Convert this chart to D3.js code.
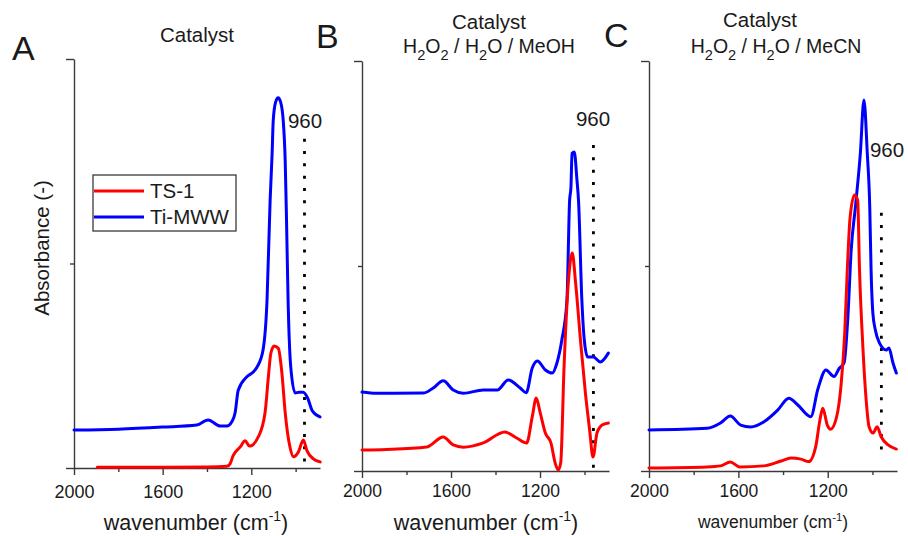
<!DOCTYPE html>
<html>
<head>
<meta charset="utf-8">
<script src="https://cdn.jsdelivr.net/npm/d3@7"></script>
<style>
  html, body { margin: 0; padding: 0; background: #fff; }
  svg { display: block; font-family: "Liberation Sans", Arial, sans-serif; }
</style>
</head>
<body>
<script>
// ---------- DATA ----------
const panelLetters = ["A", "B", "C"];
const seriesNames = ["TS-1", "Ti-MWW"];
const xDomain = [2000, 890];
const xMajorTicks = [2000, 1600, 1200];
const xMinorTicks = [1800, 1400, 1000];
const yDomain = [0, 2];
const markerWavenumber = 960;
const markerTop = [1.61, 1.59, 1.26];
const markerBottom = [0, 0, 0.09];

// Panel A: Catalyst
const aTiMWW_wn  = [2000, 1800, 1600, 1446, 1395, 1340, 1310, 1288, 1273, 1259, 1220, 1191, 1174, 1147, 1129, 1115, 1106, 1101, 1090, 1079, 1068, 1056, 1047, 1041, 1034, 1022, 1002, 985, 966, 945, 925, 890];
const aTiMWW_abs = [0.186, 0.19, 0.20, 0.21, 0.235, 0.205, 0.205, 0.226, 0.27, 0.38, 0.446, 0.47, 0.494, 0.577, 0.82, 1.31, 1.54, 1.70, 1.79, 1.81, 1.79, 1.70, 1.50, 1.21, 0.82, 0.494, 0.367, 0.37, 0.37, 0.34, 0.28, 0.25];
const aTS1_wn  = [1895, 1800, 1600, 1400, 1310, 1296, 1282, 1250, 1228, 1208, 1168, 1138, 1123, 1112, 1097, 1078, 1062, 1047, 1025, 1010, 987, 965, 949, 920, 889];
const aTS1_abs = [0.004, 0.004, 0.004, 0.005, 0.008, 0.02, 0.06, 0.103, 0.133, 0.107, 0.153, 0.27, 0.445, 0.56, 0.596, 0.585, 0.465, 0.27, 0.10, 0.055, 0.08, 0.137, 0.085, 0.045, 0.03];

// Panel B: Catalyst + H2O2 / H2O / MeOH
const bTiMWW_wn  = [2000, 1934, 1725, 1680, 1635, 1590, 1545, 1455, 1392, 1343, 1289, 1262, 1235, 1212, 1176, 1145, 1124, 1102, 1079, 1067, 1061, 1056, 1046, 1034, 1027, 1012, 1001, 986, 960, 929, 893];
const bTiMWW_abs = [0.385, 0.379, 0.38, 0.405, 0.44, 0.395, 0.379, 0.395, 0.395, 0.444, 0.405, 0.382, 0.502, 0.537, 0.493, 0.478, 0.527, 0.639, 0.834, 1.32, 1.385, 1.55, 1.556, 1.42, 1.32, 0.834, 0.639, 0.556, 0.556, 0.532, 0.575];
const bTS1_wn  = [2000, 1890, 1710, 1635, 1590, 1545, 1455, 1358, 1305, 1260, 1235, 1217, 1199, 1176, 1151, 1132, 1118, 1107, 1092, 1073, 1055, 1040, 1017, 996, 977, 962, 944, 921, 893];
const bTS1_abs = [0.102, 0.105, 0.117, 0.166, 0.127, 0.116, 0.137, 0.19, 0.161, 0.137, 0.264, 0.356, 0.283, 0.185, 0.137, 0.039, 0.005, 0.04, 0.507, 0.916, 1.063, 0.916, 0.624, 0.38, 0.2, 0.068, 0.185, 0.224, 0.234];

// Panel C: Catalyst + H2O2 / H2O / MeCN
const cTiMWW_wn  = [2000, 1740, 1680, 1636, 1590, 1545, 1487, 1424, 1374, 1334, 1276, 1244, 1208, 1172, 1149, 1127, 1110, 1095, 1075, 1054, 1038, 1023, 1012, 1006, 998, 987, 968, 938, 926, 908, 893];
const cTiMWW_abs = [0.2, 0.208, 0.234, 0.268, 0.224, 0.215, 0.239, 0.297, 0.355, 0.322, 0.265, 0.4, 0.493, 0.461, 0.5, 0.527, 0.748, 1.078, 1.30, 1.55, 1.81, 1.55, 1.29, 0.98, 0.77, 0.688, 0.624, 0.59, 0.6, 0.527, 0.478];
const cTS1_wn  = [2000, 1740, 1680, 1636, 1595, 1487, 1409, 1365, 1320, 1285, 1254, 1235, 1222, 1202, 1187, 1160, 1140, 1124, 1112, 1100, 1080, 1066, 1058, 1042, 1028, 1015, 997, 979, 961, 930, 893];
const cTS1_abs = [0.015, 0.02, 0.025, 0.044, 0.02, 0.025, 0.049, 0.063, 0.058, 0.046, 0.118, 0.249, 0.306, 0.224, 0.204, 0.265, 0.424, 0.672, 0.992, 1.236, 1.346, 1.32, 0.99, 0.59, 0.346, 0.216, 0.185, 0.216, 0.167, 0.127, 0.107];

// ---------- LAYOUT / STYLE ----------
const colors = { "TS-1": "#ff0000", "Ti-MWW": "#0000ff" };
const axisColor = "#3a3a3a";
const textColor = "#1a1a1a";

const panels = [
  { letter: 0, x0: 74,  x1: 320, yBot: 468, yTop: 59, tickFs: 18, tickPad: 10, xlabFs: 21.5, xlabX: 196, xlabY: 530,
    series: [[aTS1_wn, aTS1_abs], [aTiMWW_wn, aTiMWW_abs]],
    letterPos: [12, 60], markLab: [305, 128] },
  { letter: 1, x0: 362, x1: 609, yBot: 471, yTop: 61, tickFs: 17.5, tickPad: 6.5, xlabFs: 21.5, xlabX: 486, xlabY: 530,
    series: [[bTS1_wn, bTS1_abs], [bTiMWW_wn, bTiMWW_abs]],
    letterPos: [316, 48], markLab: [593, 126] },
  { letter: 2, x0: 649, x1: 897, yBot: 471, yTop: 61, tickFs: 17.5, tickPad: 6.5, xlabFs: 17.5, xlabX: 773, xlabY: 528,
    series: [[cTS1_wn, cTS1_abs], [cTiMWW_wn, cTiMWW_abs]],
    letterPos: [604, 47], markLab: [887, 157] }
];

const svg = d3.select("body").append("svg").attr("width", 908).attr("height", 536);

function subText(sel, parts, fs) {
  // parts: array of [text, isSub]
  let prevSub = false;
  parts.forEach(([t, sub]) => {
    const ts = sel.append("tspan").text(t);
    if (sub && !prevSub) ts.attr("font-size", fs * 0.75).attr("dy", fs * 0.38);
    else if (sub && prevSub) ts.attr("font-size", fs * 0.75);
    else if (!sub && prevSub) ts.attr("dy", -fs * 0.38);
    prevSub = sub;
  });
}

panels.forEach((p, i) => {
  const x = d3.scaleLinear().domain(xDomain).range([p.x0, p.x1]);
  const y = d3.scaleLinear().domain(yDomain).range([p.yBot, p.yTop]);
  const g = svg.append("g");

  // x axis (major with labels)
  const xa = g.append("g").attr("transform", `translate(0,${p.yBot})`)
    .call(d3.axisBottom(x).tickValues(xMajorTicks).tickSize(7).tickSizeOuter(0).tickPadding(p.tickPad).tickFormat(d3.format("d")));
  xa.selectAll("text").attr("font-size", p.tickFs).attr("font-family", "Liberation Sans, Arial, sans-serif").attr("fill", textColor);
  xa.selectAll("path,line").attr("stroke", axisColor).attr("stroke-width", 1.4);
  const xm = g.append("g").attr("transform", `translate(0,${p.yBot})`)
    .call(d3.axisBottom(x).tickValues(xMinorTicks).tickSize(4).tickSizeOuter(0).tickFormat(""));
  xm.select(".domain").remove();
  xm.selectAll("line").attr("stroke", axisColor).attr("stroke-width", 1.4);

  // y axis
  const ya = g.append("g").attr("transform", `translate(${p.x0},0)`)
    .call(d3.axisLeft(y).tickValues([yDomain[0], yDomain[1]]).tickSize(8).tickSizeOuter(0).tickFormat(""));
  ya.selectAll("path,line").attr("stroke", axisColor).attr("stroke-width", 1.4);
  const ym = g.append("g").attr("transform", `translate(${p.x0},0)`)
    .call(d3.axisLeft(y).tickValues([(yDomain[0] + yDomain[1]) / 2]).tickSize(4).tickSizeOuter(0).tickFormat(""));
  ym.select(".domain").remove();
  ym.selectAll("line").attr("stroke", axisColor).attr("stroke-width", 1.4);

  // dotted marker at 960
  g.append("line")
    .attr("x1", x(markerWavenumber)).attr("x2", x(markerWavenumber))
    .attr("y1", y(markerTop[i])).attr("y2", y(markerBottom[i]))
    .attr("stroke", "#000").attr("stroke-width", 2.8).attr("stroke-dasharray", "3,9.3");
  g.append("text").attr("x", p.markLab[0]).attr("y", p.markLab[1]).attr("text-anchor", "middle")
    .attr("font-size", 20.5).attr("fill", textColor).text(String(markerWavenumber));

  // curves: Ti-MWW first, TS-1 on top
  const line = d3.line().x(d => x(d[0])).y(d => y(d[1])).curve(d3.curveMonotoneX);
  [1, 0].forEach(si => {
    const [wn, ab] = p.series[si];
    const pts = wn.map((w, k) => [w, ab[k]]);
    g.append("path").datum(pts).attr("d", line).attr("fill", "none")
      .attr("stroke", colors[seriesNames[si]]).attr("stroke-width", 3).attr("stroke-linejoin", "round").attr("stroke-linecap", "round");
  });

  // panel letter
  g.append("text").attr("x", p.letterPos[0]).attr("y", p.letterPos[1]).attr("font-size", 34)
    .attr("fill", textColor).text(panelLetters[p.letter]);

  // x label
  const xl = g.append("text").attr("x", p.xlabX).attr("y", p.xlabY).attr("text-anchor", "middle")
    .attr("font-size", p.xlabFs).attr("fill", textColor);
  xl.append("tspan").text("wavenumber (cm");
  xl.append("tspan").text("-1").attr("font-size", p.xlabFs * 0.65).attr("dy", -p.xlabFs * 0.42);
  xl.append("tspan").text(")").attr("dy", p.xlabFs * 0.42);
});

// titles
svg.append("text").attr("x", 197).attr("y", 42).attr("text-anchor", "middle").attr("font-size", 20.5).attr("fill", textColor).text("Catalyst");
svg.append("text").attr("x", 489).attr("y", 29).attr("text-anchor", "middle").attr("font-size", 20.5).attr("fill", textColor).text("Catalyst");
svg.append("text").attr("x", 760).attr("y", 27).attr("text-anchor", "middle").attr("font-size", 20.5).attr("fill", textColor).text("Catalyst");
const t2 = svg.append("text").attr("x", 489).attr("y", 53).attr("text-anchor", "middle").attr("font-size", 19.5).attr("fill", textColor);
subText(t2, [["H", false], ["2", true], ["O", false], ["2", true], [" / H", false], ["2", true], ["O / MeOH", false]], 19.5);
const t3 = svg.append("text").attr("x", 776).attr("y", 53).attr("text-anchor", "middle").attr("font-size", 19.5).attr("fill", textColor);
subText(t3, [["H", false], ["2", true], ["O", false], ["2", true], [" / H", false], ["2", true], ["O / MeCN", false]], 19.5);

// y label
svg.append("text").attr("transform", "translate(49,248) rotate(-90)").attr("text-anchor", "middle")
  .attr("font-size", 20.5).attr("fill", textColor).text("Absorbance (-)");

// legend
const lg = svg.append("g");
lg.append("rect").attr("x", 93).attr("y", 175).attr("width", 143).attr("height", 56)
  .attr("fill", "#fff").attr("stroke", axisColor).attr("stroke-width", 1.3);
seriesNames.forEach((n, k) => {
  const yy = 191 + k * 26;
  lg.append("line").attr("x1", 94).attr("x2", 144).attr("y1", yy).attr("y2", yy)
    .attr("stroke", colors[n]).attr("stroke-width", 3);
  lg.append("text").attr("x", 150).attr("y", yy + 6.5).attr("font-size", 20.5).attr("fill", textColor).text(n);
});
</script>
</body>
</html>
